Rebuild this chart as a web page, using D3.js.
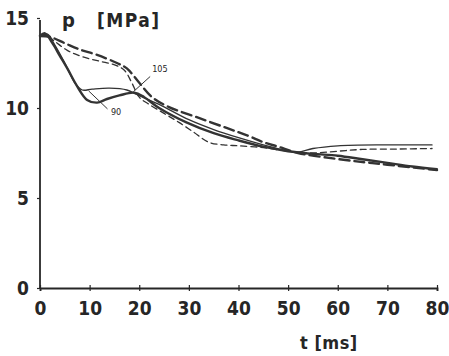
<!DOCTYPE html>
<html>
<head>
<meta charset="utf-8">
<script src="https://cdn.jsdelivr.net/npm/d3@7"></script>
<style>
  body { margin: 0; background: #fff; }
  svg { display: block; }
  text { font-family: "DejaVu Sans Condensed", "DejaVu Sans", sans-serif; fill: #262626; }
</style>
</head>
<body>
<svg width="449" height="356"></svg>
<script>
// curves, [t ms, p MPa]
const thickSolid = [[0,14.0],[1,14.15],[2.5,13.6],[4,12.9],[5.5,12.2],[7.5,11.2],[9.5,10.45],[11.5,10.3],[13.5,10.5],[16,10.7],[19,10.85],[21,10.6],[24,10.0],[29.5,9.2],[35,8.6],[40,8.2],[45,7.85],[50,7.6],[55,7.45],[60,7.35],[65,7.15],[70,6.95],[75,6.75],[80,6.6]];
const thinSolid = [[0,14.0],[1.5,14.1],[3,13.5],[5,12.5],[7,11.4],[8.5,11.0],[10.5,11.05],[14,11.1],[17.5,11.0],[19.5,10.75],[24,10.2],[30,9.35],[35,8.8],[40,8.35],[45,7.95],[50,7.6],[52,7.55],[55,7.75],[60,7.9],[70,7.95],[79,7.95]];
const thinDashed = [[0,14.0],[1,14.1],[3,13.7],[5.5,13.2],[8.5,12.85],[12,12.6],[15,12.4],[17,12.1],[18.5,11.4],[20,10.6],[22,10.2],[25,9.7],[28,9.2],[31,8.65],[34,8.1],[37,7.95],[40,7.9],[45,7.8],[50,7.6],[55,7.5],[60,7.6],[65,7.7],[72,7.72],[79,7.75]];
const thickDashed = [[0,14.0],[2,13.95],[5,13.6],[8,13.25],[11.5,12.95],[15.5,12.5],[17.5,12.2],[20,11.4],[22.6,10.6],[26,10.05],[32,9.45],[38,8.85],[42,8.45],[45,8.1],[48,7.85],[52,7.5],[59,7.2],[65,7.0],[70,6.85],[80,6.55]];

const xTicks = [0,10,20,30,40,50,60,70,80];
const yTicks = [0,5,10,15];

// curve labels with leader lines: text position, leader start, leader end
const labels = [
  { text: "105", at: [22.6,12.0], from: [22.2,11.75], to: [18.8,10.9] },
  { text: "90", at: [14.3,9.6], from: [13.6,9.95], to: [9.8,10.95] }
];

const svg = d3.select("svg");
const x = d3.scaleLinear().domain([0,80]).range([40,437]);
const y = d3.scaleLinear().domain([0,15]).range([288,18]);

// axes
const xAxis = svg.append("g")
  .attr("transform", "translate(0," + y(0) + ")")
  .call(d3.axisBottom(x).tickValues(xTicks).tickSize(3).tickPadding(11).tickFormat(d3.format("d")));
const yAxis = svg.append("g")
  .attr("transform", "translate(" + x(0) + ",0)")
  .call(d3.axisLeft(y).tickValues(yTicks).tickSize(3).tickPadding(8).tickFormat(d3.format("d")));

[xAxis, yAxis].forEach(function(a) {
  a.select(".domain").attr("stroke", "#262626").attr("stroke-width", 1.8);
  a.selectAll(".tick line").attr("stroke", "#262626").attr("stroke-width", 1.2);
  a.selectAll(".tick text")
    .style("font-size", "19px").style("font-weight", "bold")
    .style("font-family", "'DejaVu Sans Condensed', 'DejaVu Sans', sans-serif")
    .attr("fill", "#262626");
});
xAxis.selectAll(".tick line").attr("y1", -3);
yAxis.selectAll(".tick text").attr("dy", "0.36em");
yAxis.select(".domain").attr("d", "M0," + y(0) + "V" + (y(15) + 2));

// axis titles
svg.append("text").attr("x", 62).attr("y", 27).style("font-size", "20px").style("font-weight", "bold").text("p");
svg.append("text").attr("x", 97).attr("y", 27).style("font-size", "19px").style("font-weight", "bold")
  .style("letter-spacing", "1.5px").text("[MPa]");
svg.append("text").attr("x", 300).attr("y", 349).style("font-size", "18px").style("font-weight", "bold")
  .style("letter-spacing", "0.5px").text("t [ms]");

// curves
const line = d3.line()
  .x(function(d) { return x(d[0]); })
  .y(function(d) { return y(d[1]); })
  .curve(d3.curveCatmullRom.alpha(0.5));

const series = [
  { data: thinSolid, width: 1.3, dash: null },
  { data: thinDashed, width: 1.3, dash: "6,4" },
  { data: thickDashed, width: 2.4, dash: "10,5" },
  { data: thickSolid, width: 2.4, dash: null }
];

svg.append("g").selectAll("path")
  .data(series)
  .enter().append("path")
    .attr("d", function(s) { return line(s.data); })
    .attr("fill", "none")
    .attr("stroke", "#333")
    .attr("stroke-width", function(s) { return s.width; })
    .attr("stroke-dasharray", function(s) { return s.dash; })
    .attr("stroke-linecap", "round");

// labels
const lab = svg.append("g").selectAll("g").data(labels).enter().append("g");
lab.append("line")
  .attr("x1", function(d) { return x(d.from[0]); })
  .attr("y1", function(d) { return y(d.from[1]); })
  .attr("x2", function(d) { return x(d.to[0]); })
  .attr("y2", function(d) { return y(d.to[1]); })
  .attr("stroke", "#333").attr("stroke-width", 1);
lab.append("text")
  .attr("x", function(d) { return x(d.at[0]); })
  .attr("y", function(d) { return y(d.at[1]); })
  .style("font-size", "9px")
  .text(function(d) { return d.text; });
</script>
</body>
</html>
